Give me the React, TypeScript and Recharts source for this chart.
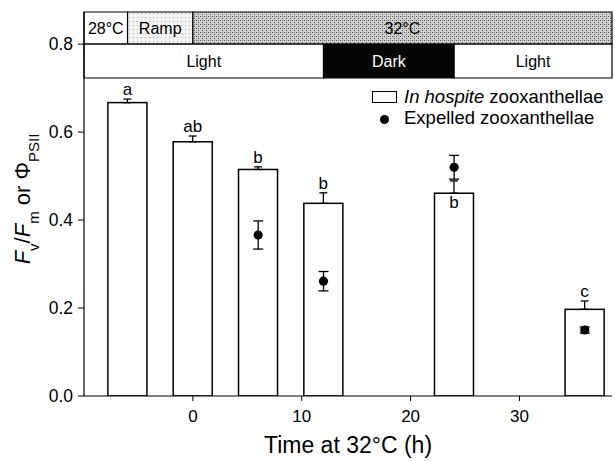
import React from "react";
import {
  ComposedChart, Bar, Scatter, XAxis, YAxis, ErrorBar, ReferenceArea,
} from "recharts";

// in hospite bars
const times = [-6, 0, 6, 12, 24, 36];
const hospite = [0.667, 0.578, 0.515, 0.438, 0.461, 0.197];
const hospiteErr = [0.008, 0.013, 0.006, 0.024, 0.028, 0.019];
const letters = ["a", "ab", "b", "b", "b", "c"];
const letterInside = [false, false, false, false, true, false];

// expelled points
const expelledTimes = [6, 12, 24, 36];
const expelled = [0.366, 0.261, 0.52, 0.15];
const expelledErr = [0.032, 0.022, 0.027, 0.007];

const xTicks = [0, 10, 20, 30];
const yTicks = [0, 0.2, 0.4, 0.6, 0.8];
const xMin = -10;
const xMax = 38.5;
const yTop = 0.873;
const rowSplit = 0.8;
const rowBottom = 0.723;

// banner cells
const tempCells = [
  { x1: -10, x2: -6, label: "28°C", fill: "#fff" },
  { x1: -6, x2: 0, label: "Ramp", fill: "url(#rampDots)" },
  { x1: 0, x2: 38.5, label: "32°C", fill: "url(#hotDots)" },
];
const lightCells = [
  { x1: -10, x2: 12, label: "Light", dark: false },
  { x1: 12, x2: 24, label: "Dark", dark: true },
  { x1: 24, x2: 38.5, label: "Light", dark: false },
];

const FONT = '"Liberation Sans", Arial, Helvetica, sans-serif';

const barData = times.map((t, i) => ({
  t,
  v: hospite[i],
  err: [0, hospiteErr[i]],
  letter: letters[i],
  inside: letterInside[i],
  e: hospiteErr[i],
}));
const pointData = expelledTimes.map((t, i) => ({ t, v: expelled[i], err: expelledErr[i] }));

function BarShape(p: any) {
  const { x, y, width, height, payload } = p;
  const ppu = height / payload.v;
  const capY = y - payload.e * ppu;
  return (
    <g>
      <rect x={x} y={y} width={width} height={height} fill="#fff" stroke="#000" strokeWidth={1.5} />
      <text
        x={x + width / 2}
        y={payload.inside ? y + 15 : capY - 4}
        textAnchor="middle"
        fontSize={17}
        fill="#000"
      >
        {payload.letter}
      </text>
    </g>
  );
}

function Dot(p: any) {
  return <circle cx={p.cx} cy={p.cy} r={4.6} fill="#000" />;
}

function LegendBox() {
  return (
    <div
      style={{
        position: "absolute", left: 372, top: 86,
        fontFamily: FONT, fontSize: 18.5, color: "#000", lineHeight: "21px", whiteSpace: "nowrap",
      }}
    >
      <div style={{ display: "flex", alignItems: "center" }}>
        <span style={{ display: "inline-block", width: 23, height: 10, border: "1.3px solid #000", marginRight: 7 }} />
        <span><i>In hospite</i> zooxanthellae</span>
      </div>
      <div style={{ display: "flex", alignItems: "center" }}>
        <span style={{ display: "inline-block", width: 25, marginRight: 7, textAlign: "center" }}>
          <span style={{ display: "inline-block", width: 9, height: 9, borderRadius: "50%", background: "#000" }} />
        </span>
        <span>Expelled zooxanthellae</span>
      </div>
    </div>
  );
}

export default function App() {
  return (
    <div style={{ position: "relative", width: 615, height: 461, fontFamily: FONT }}>
      <style>{"body{margin:0}"}</style>
      <ComposedChart
        width={615}
        height={461}
        data={barData}
        margin={{ top: 12, right: 3, bottom: 35, left: 24 }}
        style={{ fontFamily: FONT }}
      >
        <defs>
          <pattern id="hotDots" width="4" height="4" patternUnits="userSpaceOnUse">
            <rect width="4" height="4" fill="#cfcfcf" />
            <rect x="0" y="0" width="1" height="1" fill="#555" />
            <rect x="2" y="2" width="1" height="1" fill="#555" />
            <rect x="2" y="0" width="1" height="1" fill="#888" />
          </pattern>
          <pattern id="rampDots" width="4" height="4" patternUnits="userSpaceOnUse">
            <rect width="4" height="4" fill="#f3f3f3" />
            <rect x="1" y="1" width="1" height="1" fill="#aaa" />
          </pattern>
        </defs>
        <XAxis
          dataKey="t"
          type="number"
          domain={[xMin, xMax]}
          ticks={xTicks}
          allowDataOverflow
          axisLine={{ stroke: "#000", strokeWidth: 1.2 }}
          tickLine={{ stroke: "#000" }}
          tick={{ fill: "#000", fontSize: 17 }}
          tickSize={5}
          tickMargin={9}
          height={30}
          label={{ value: "Time at 32°C (h)", position: "bottom", offset: 11, fill: "#000", fontSize: 23 }}
        />
        <YAxis
          type="number"
          domain={[0, yTop]}
          ticks={yTicks}
          allowDataOverflow
          width={60}
          axisLine={{ stroke: "#000", strokeWidth: 1.2 }}
          tickLine={{ stroke: "#000" }}
          tick={{ fill: "#000", fontSize: 17.5 }}
          tickSize={6}
          tickMargin={5}
          tickFormatter={(v: number) => v.toFixed(1)}
          label={() => {
            const cx = 30;
            const cy = 199;
            return (
              <text
                x={cx}
                y={cy}
                transform={`rotate(-90 ${cx} ${cy})`}
                textAnchor="middle"
                fontSize={22}
                fill="#000"
                style={{ fontFamily: FONT }}
              >
                <tspan fontStyle="italic">F</tspan>
                <tspan fontSize={15} baselineShift="sub">v</tspan>
                <tspan>/</tspan>
                <tspan fontStyle="italic">F</tspan>
                <tspan fontSize={15} baselineShift="sub">m</tspan>
                <tspan> or Φ</tspan>
                <tspan fontSize={15} baselineShift="sub">PSII</tspan>
              </text>
            );
          }}
        />
        {tempCells.map((c, i) => (
          <ReferenceArea
            key={"t" + i}
            x1={c.x1}
            x2={c.x2}
            y1={rowSplit}
            y2={yTop}
            fill={c.fill}
            fillOpacity={1}
            stroke="#000"
            strokeWidth={1.2}
            label={{ value: c.label, position: "center", fill: "#000", fontSize: 16 }}
          />
        ))}
        {lightCells.map((c, i) => (
          <ReferenceArea
            key={"l" + i}
            x1={c.x1}
            x2={c.x2}
            y1={rowBottom}
            y2={rowSplit}
            fill={c.dark ? "#050505" : "#fff"}
            fillOpacity={1}
            stroke="#000"
            strokeWidth={1.2}
            label={{ value: c.label, position: "center", fill: c.dark ? "#fff" : "#000", fontSize: 16 }}
          />
        ))}
        <Bar
          dataKey="v"
          name="In hospite zooxanthellae"
          barSize={39}
          shape={BarShape}
          isAnimationActive={false}
        >
          <ErrorBar dataKey="err" width={4} stroke="#000" strokeWidth={1.3} direction="y" />
        </Bar>
        <Scatter
          data={pointData}
          dataKey="v"
          name="Expelled zooxanthellae"
          shape={Dot}
          isAnimationActive={false}
        >
          <ErrorBar dataKey="err" width={5} stroke="#000" strokeWidth={1.3} direction="y" />
        </Scatter>
      </ComposedChart>
      <LegendBox />
    </div>
  );
}
